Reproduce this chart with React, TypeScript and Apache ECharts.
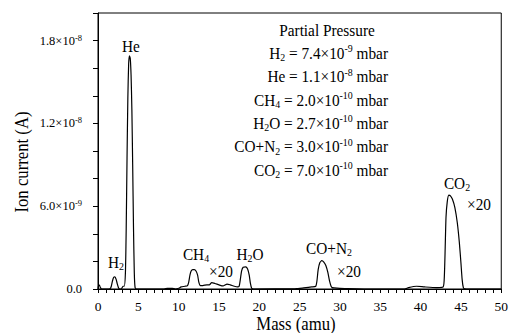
import React, { useEffect, useRef } from "react";
import * as echarts from "echarts";

// Mass (amu)
const masses = [
  0, 0.1, 0.2, 0.3, 0.45, 1.0, 1.5, 1.65, 1.8, 1.95, 2.1, 2.25, 2.4, 2.55, 2.7, 2.9, 3.1, 3.25, 3.4,
  3.5, 3.6, 3.7, 3.8, 3.9, 4.0, 4.1, 4.2, 4.3, 4.4, 4.5, 4.6, 4.8, 8.2, 8.6, 9.2, 9.6, 10.0, 10.3,
  10.8, 11.1, 11.25, 11.4, 11.55, 11.75, 11.95, 12.15, 12.35, 12.5, 12.7, 13.0, 13.5, 13.8, 14.1,
  14.5, 15.0, 15.5, 16.0, 16.4, 16.9, 17.3, 17.5, 17.65, 17.8, 18.0, 18.3, 18.55, 18.75, 18.9, 19.05,
  19.3, 24.5, 25.5, 26.5, 27.0, 27.15, 27.3, 27.5, 27.75, 28.0, 28.25, 28.5, 28.7, 28.9, 29.05, 29.3,
  30.0, 31.0, 33.0, 38.0, 38.5, 39.5, 40.5, 42.0, 42.8, 42.95, 43.05, 43.15, 43.3, 43.5, 43.7, 43.95,
  44.25, 44.55, 44.8, 45.0, 45.15, 45.3, 45.45, 46.0, 50.0,
];
// Ion current (units of 1e-9 A)
const currents = [
  0.0, 0.3, 0.25, 0.1, 0.0, 0.0, 0.02, 0.2, 0.6, 0.85, 0.88, 0.7, 0.35, 0.08, 0.0, 0.0, 0.2, 0.2, 1.2,
  4.5, 9.5, 13.8, 16.3, 16.9, 16.7, 15.5, 13.0, 9.0, 4.5, 1.2, 0.1, 0.0, 0.0, 0.05, 0.05, 0.0, 0.05, 0.15,
  0.2, 0.25, 0.5, 1.0, 1.3, 1.4, 1.4, 1.3, 1.0, 0.5, 0.25, 0.25, 0.3, 0.3, 0.46,
  0.4, 0.3, 0.22, 0.36, 0.3, 0.2, 0.15, 0.2, 0.7, 1.3, 1.58, 1.6, 1.45, 1.0, 0.4, 0.05,
  0.0, 0.02, 0.08, 0.15, 0.2, 0.6, 1.4, 1.9, 2.05, 1.95, 1.7, 1.2, 0.6, 0.2, 0.1, 0.08,
  0.05, 0.02, 0.0, 0.0, 0.1, 0.2, 0.15, 0.1, 0.15, 1.0, 3.0, 5.2, 6.3, 6.8, 6.75, 6.5,
  5.9, 4.8, 3.4, 1.9, 0.7, 0.1, 0.02, 0.0, 0.0,
];

// y tick labels (value in 1e-9 A -> [mantissa, exponent])
const yTickLabels: Record<number, [string, string]> = {
  0: ["0.0", ""],
  6: ["6.0×10", "-9"],
  12: ["1.2×10", "-8"],
  18: ["1.8×10", "-8"],
};

const pressureTitle = "Partial Pressure";
const pressureLines = [
  "{b|H}{s|2}{b| = 7.4×10}{u|-9}{b| mbar}",
  "{b|He = 1.1×10}{u|-8}{b| mbar}",
  "{b|CH}{s|4}{b| = 2.0×10}{u|-10}{b| mbar}",
  "{b|H}{s|2}{b|O = 2.7×10}{u|-10}{b| mbar}",
  "{b|CO+N}{s|2}{b| = 3.0×10}{u|-10}{b| mbar}",
  "{b|CO}{s|2}{b| = 7.0×10}{u|-10}{b| mbar}",
];

const FONT = "Liberation Serif";
const SQUEEZE = 0.9;

const rich17 = {
  b: { fontFamily: FONT, fontSize: 17, color: "#000", lineHeight: 20 },
  s: { fontFamily: FONT, fontSize: 11, color: "#000", lineHeight: 9, verticalAlign: "bottom" },
  u: { fontFamily: FONT, fontSize: 11, color: "#000", lineHeight: 10, verticalAlign: "top" },
};

function textEl(text: string, x: number, y: number, align = "center") {
  return {
    type: "text",
    x,
    y,
    scaleX: SQUEEZE,
    silent: true,
    style: {
      text,
      rich: rich17,
      align,
      verticalAlign: "middle",
      fill: "#000",
      fontFamily: FONT,
      fontSize: 17,
    },
  };
}

export default function App() {
  const ref = useRef<HTMLDivElement>(null);
  useEffect(() => {
    if (!ref.current) return;
    const chart = echarts.init(ref.current, null, { renderer: "svg" });
    const data = masses.map((m, i) => [m, currents[i]]);
    const graphics: any[] = [];
    graphics.push(textEl(`{b|${pressureTitle}}`, 327, 30));
    pressureLines.forEach((t, i) => {
      graphics.push(textEl(t, 388, 53 + i * 23.4, "right"));
    });
    // peak annotations
    graphics.push(textEl("{b|He}", 131, 46));
    graphics.push(textEl("{b|H}{s|2}", 116, 262));
    graphics.push(textEl("{b|CH}{s|4}", 196, 254));
    graphics.push(textEl("{b|×20}", 221, 271));
    graphics.push(textEl("{b|H}{s|2}{b|O}", 250, 254));
    graphics.push(textEl("{b|CO+N}{s|2}", 329, 248));
    graphics.push(textEl("{b|×20}", 349, 271));
    graphics.push(textEl("{b|CO}{s|2}", 457, 183));
    graphics.push(textEl("{b|×20}", 479, 204));
    // axis names
    graphics.push({
      type: "text",
      x: 22,
      y: 162,
      rotation: Math.PI / 2,
      scaleX: 0.88,
      silent: true,
      style: {
        text: "Ion current (A)",
        align: "center",
        verticalAlign: "middle",
        fill: "#000",
        fontFamily: FONT,
        fontSize: 19,
      },
    });
    graphics.push({
      type: "text",
      x: 296,
      y: 324,
      scaleX: 0.88,
      silent: true,
      style: {
        text: "Mass (amu)",
        align: "center",
        verticalAlign: "middle",
        fill: "#000",
        fontFamily: FONT,
        fontSize: 19,
      },
    });

    chart.setOption({
      animation: false,
      backgroundColor: "#fff",
      grid: {
        left: 98,
        right: 5,
        top: 13,
        bottom: 44,
        show: true,
        borderColor: "#000",
        borderWidth: 1,
      },
      xAxis: {
        type: "value",
        min: 0,
        max: 50,
        interval: 1,
        axisLine: { show: true, lineStyle: { color: "#000", width: 1 } },
        axisTick: { show: true, inside: false, length: 4, lineStyle: { color: "#000" } },
        splitLine: { show: false },
        axisLabel: {
          margin: 10,
          fontFamily: FONT,
          fontSize: 13.5,
          color: "#000",
          formatter: (v: number) => (Math.round(v) % 5 === 0 ? String(Math.round(v)) : ""),
        },
      },
      yAxis: {
        type: "value",
        min: 0,
        max: 20,
        interval: 2,
        axisLine: { show: true, lineStyle: { color: "#000", width: 1 } },
        axisTick: { show: true, inside: false, length: 5, lineStyle: { color: "#000" } },
        splitLine: { show: false },
        axisLabel: {
          margin: 16,
          color: "#000",
          fontFamily: FONT,
          formatter: (v: number) => {
            const k = Math.round(v);
            const t = yTickLabels[k];
            if (!t) return "";
            return t[1] ? `{b|${t[0]}}{u|${t[1]}}` : `{b|${t[0]}}`;
          },
          rich: {
            b: { fontFamily: FONT, fontSize: 12.5, color: "#000", lineHeight: 15 },
            u: { fontFamily: FONT, fontSize: 8.5, color: "#000", lineHeight: 8, verticalAlign: "top" },
          },
        },
      },
      series: [
        {
          type: "line",
          data,
          showSymbol: false,
          symbol: "none",
          smooth: 0.2,
          lineStyle: { color: "#000", width: 1.2 },
        },
      ],
      graphic: graphics,
    });
    return () => chart.dispose();
  }, []);
  return (
    <div
      ref={ref}
      style={{ position: "fixed", left: 0, top: 0, width: 511, height: 333, background: "#fff" }}
    />
  );
}
